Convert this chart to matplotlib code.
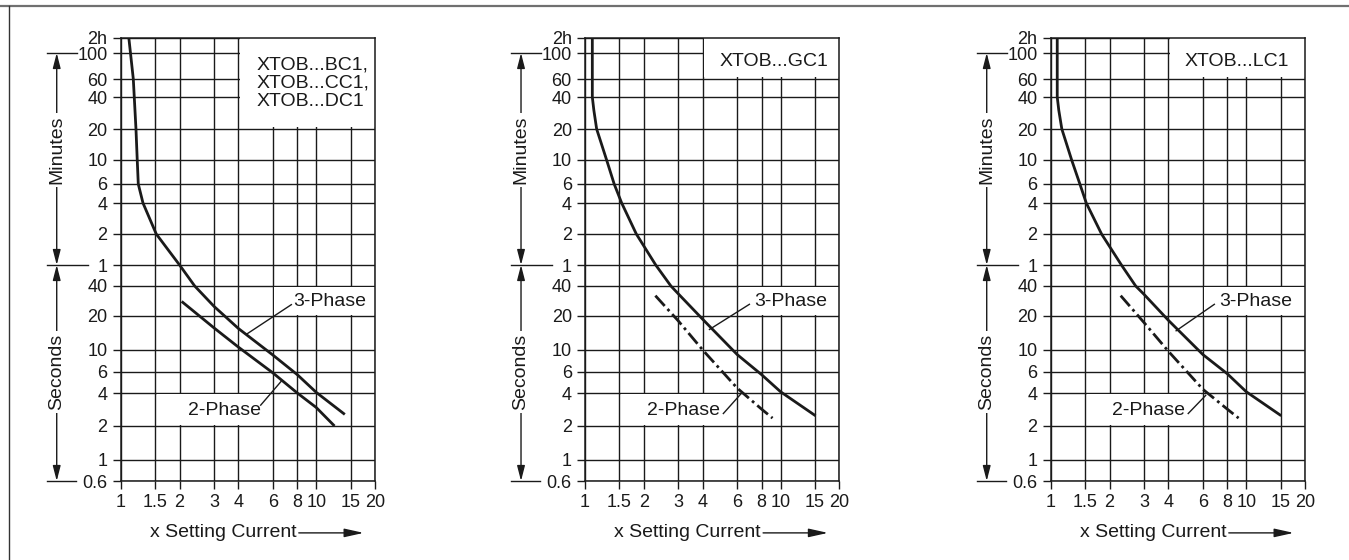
import numpy as np
import matplotlib
matplotlib.use('Agg')
import matplotlib.pyplot as plt
from matplotlib import rcParams
from matplotlib.patches import Rectangle
from matplotlib.lines import Line2D
import matplotlib.transforms as mtransforms

rcParams.update({'font.family': 'sans-serif', 'font.sans-serif': ['Liberation Sans', 'DejaVu Sans'],
                 'font.size': 13, 'text.color': '#1a1a1a', 'axes.edgecolor': '#1a1a1a',
                 'xtick.color': '#1a1a1a', 'ytick.color': '#1a1a1a'})

ink = '#1a1a1a'

# axis ticks (y in seconds)
xtick_vals = [1, 1.5, 2, 3, 4, 6, 8, 10, 15, 20]
xtick_labels = ['1', '1.5', '2', '3', '4', '6', '8', '10', '15', '20']
ytick_vals = [0.6, 1, 2, 4, 6, 10, 20, 40, 60, 120, 240, 360, 600, 1200, 2400, 3600, 6000, 7200]
ytick_labels = ['0.6', '1', '2', '4', '6', '10', '20', '40', '1', '2', '4', '6', '10', '20', '40', '60', '100', '2h']

# panel titles
titles = ['XTOB...BC1,\nXTOB...CC1,\nXTOB...DC1', 'XTOB...GC1', 'XTOB...LC1']

# 3-phase curves (x setting current, seconds)
bc_3ph_x = [1.10, 1.16, 1.197, 1.215, 1.23, 1.30, 1.52, 1.75, 2.0, 2.39, 3.0, 4.0, 6.0, 8.0, 10.0, 14.0]
bc_3ph_y = [7200, 3600, 1200, 600, 360, 240, 120, 84, 60, 40, 25, 15.5, 8.9, 5.7, 4.05, 2.55]
gc_3ph_x = [1.09, 1.09, 1.11, 1.147, 1.29, 1.41, 1.54, 1.83, 2.3, 2.75, 3.0, 4.0, 6.0, 8.0, 10.0, 15.1]
gc_3ph_y = [7200, 2400, 1800, 1200, 600, 360, 240, 120, 60, 40, 33.4, 18.7, 9.0, 5.7, 4.1, 2.48]
lc_3ph_x = [1.08, 1.08, 1.10, 1.14, 1.28, 1.41, 1.52, 1.82, 2.3, 2.72, 3.0, 4.0, 6.0, 8.0, 10.0, 15.1]
lc_3ph_y = [7200, 2400, 1800, 1200, 600, 360, 240, 120, 60, 40, 33, 18.3, 9.0, 5.8, 4.1, 2.48]

# 2-phase curves
bc_2ph_x = [2.05, 3.0, 4.0, 6.0, 8.0, 10.0, 12.4]
bc_2ph_y = [28, 15.7, 10.6, 5.9, 4.0, 2.95, 2.0]
gc_2ph_x = [2.29, 3.0, 4.0, 6.0, 8.0, 9.1]
gc_2ph_y = [32, 18.1, 10.0, 4.4, 2.85, 2.36]
lc_2ph_x = [2.28, 3.0, 4.0, 6.0, 8.0, 9.14]
lc_2ph_y = [32, 17.5, 9.7, 4.3, 2.85, 2.36]

# the printed time axis is log-like but not evenly spaced; map grid values to their height
scale_s = [1e-3, 0.6, 1, 2, 4, 6, 10, 20, 40, 60, 120, 240, 360, 600, 1200, 2400, 3600, 6000, 7200, 1e6]
scale_h = [-305.6, 0, 21, 55, 88, 109, 131, 165, 195, 216, 247, 278, 297, 321, 352, 384, 402, 428, 443.5, 679.2]
scale_logs = np.log10(scale_s)


def time_fwd(s):
    s = np.asarray(s, dtype=float)
    return np.interp(np.log10(np.clip(s, 1e-3, 1e6)), scale_logs, scale_h)


def time_inv(h):
    h = np.asarray(h, dtype=float)
    return 10 ** np.interp(h, scale_h, scale_logs)


def draw_panel(ax, title, title_xy, x3, y3, x2, y2, box_bottom, style2, lab3, lead3, lab2, lead2):
    ax.set_xscale('log')
    ax.set_yscale('function', functions=(time_fwd, time_inv))
    ax.set_xlim(1, 20)
    ax.set_ylim(0.6, 7200)
    ax.set_xticks(xtick_vals)
    ax.set_xticklabels(xtick_labels)
    ax.set_yticks(ytick_vals)
    ax.set_yticklabels(ytick_labels)
    ax.minorticks_off()
    ax.tick_params(direction='out', length=5.5, width=1, pad=4, labelsize=13)
    ax.set_axisbelow(True)
    ax.grid(True, color=ink, lw=1.0)
    for s in ax.spines.values():
        s.set_linewidth(1.1)

    # white boxes hiding the grid
    ax.add_patch(Rectangle((4 * 1.018, box_bottom * 1.04), 20 - 4 * 1.018, 7200 - box_bottom * 1.04,
                           facecolor='white', edgecolor='none'))
    ax.add_patch(Rectangle((6 * 1.018, 20 * 1.03), 20 - 6 * 1.018, 40 / 1.03 - 20 * 1.03,
                           facecolor='white', edgecolor='none'))
    ax.add_patch(Rectangle((1.5 * 1.018, 2 * 1.03), 6 / 1.018 - 1.5 * 1.018, 4 / 1.03 - 2 * 1.03,
                           facecolor='white', edgecolor='none'))

    ax.text(title_xy[0], title_xy[1], title, transform=ax.transAxes,
            ha='left', va='center', fontsize=14, linespacing=1.08)

    ax.plot(x3, y3, color=ink, lw=2.0, solid_capstyle='butt', solid_joinstyle='round', zorder=4)
    ax.plot(x2, y2, color=ink, lw=2.0, linestyle=style2, solid_capstyle='butt', zorder=4)

    ax.text(lab3[0], lab3[1], '3-Phase', ha='left', va='center', fontsize=14, zorder=5)
    ax.plot(lead3[0], lead3[1], color=ink, lw=1.0, zorder=5)
    ax.text(lab2[0], lab2[1], '2-Phase', ha='left', va='center', fontsize=14, zorder=5)
    ax.plot(lead2[0], lead2[1], color=ink, lw=1.0, zorder=5)

    # Minutes / Seconds range arrows
    tr = mtransforms.blended_transform_factory(ax.transAxes, ax.transData)
    xa = -0.2515
    ax.plot([-0.2896, -0.1717], [6000, 6000], color=ink, lw=1.0, transform=tr, clip_on=False)
    ax.plot([-0.2896, -0.1285], [60, 60], color=ink, lw=1.0, transform=tr, clip_on=False)
    ax.plot([-0.2896, -0.1756], [0.6, 0.6], color=ink, lw=1.0, transform=tr, clip_on=False)
    arr = dict(arrowstyle='<|-|>,head_length=0.7,head_width=0.18', lw=1.0, color=ink,
               shrinkA=0, shrinkB=0)
    ax.annotate('', xy=(xa, 6000), xytext=(xa, 60), xycoords=tr, textcoords=tr, arrowprops=arr,
                annotation_clip=False)
    ax.annotate('', xy=(xa, 60), xytext=(xa, 0.6), xycoords=tr, textcoords=tr, arrowprops=arr,
                annotation_clip=False)
    box = dict(boxstyle='square,pad=0.15', facecolor='white', edgecolor='none')
    ax.text(xa, 0.746, 'Minutes', rotation=90, ha='center', va='center', fontsize=14,
            transform=ax.transAxes, bbox=box, clip_on=False, zorder=6)
    ax.text(xa, 0.246, 'Seconds', rotation=90, ha='center', va='center', fontsize=14,
            transform=ax.transAxes, bbox=box, clip_on=False, zorder=6)

    # x label with arrow
    ax.text(0.115, -0.117, 'x Setting Current', transform=ax.transAxes, ha='left', va='center',
            fontsize=14)
    ax.annotate('', xy=(0.955, -0.117), xytext=(0.70, -0.117), xycoords='axes fraction',
                arrowprops=dict(arrowstyle='-|>,head_length=0.9,head_width=0.2', lw=1.0,
                                color=ink, shrinkA=0, shrinkB=0), annotation_clip=False)


fig = plt.figure(figsize=(13.49, 5.6), dpi=100)
w, h, b = 254.4 / 1349, 443.5 / 560, 79 / 560
ax1 = fig.add_axes([120.7 / 1349, b, w, h])
ax2 = fig.add_axes([585 / 1349, b, w, h])
ax3 = fig.add_axes([1050.7 / 1349, b, w, h])

dashdot = (0, (5, 1.5, 1, 1.5))
draw_panel(ax1, titles[0], (0.535, 0.897), bc_3ph_x, bc_3ph_y, bc_2ph_x, bc_2ph_y, 1200, '-',
           (7.66, 28), ([7.46, 4.4], [26, 13.8]), (2.22, 2.75), ([5.2, 6.61], [3.1, 5.0]))
draw_panel(ax2, titles[1], (0.527, 0.947), gc_3ph_x, gc_3ph_y, gc_2ph_x, gc_2ph_y, 3600, dashdot,
           (7.35, 28), ([6.93, 4.33], [26.2, 15.2]), (2.07, 2.75), ([5.1, 6.25], [2.6, 3.9]))
draw_panel(ax3, titles[2], (0.528, 0.947), lc_3ph_x, lc_3ph_y, lc_2ph_x, lc_2ph_y, 3600, dashdot,
           (7.28, 28), ([6.87, 4.38], [26.2, 14.8]), (2.06, 2.75), ([5.05, 6.2], [2.6, 3.8]))

# outer frame (top and left edges)
fig.add_artist(Line2D([0, 1], [1 - 5.5 / 560, 1 - 5.5 / 560], color='#707070', lw=1.6,
                      transform=fig.transFigure))
fig.add_artist(Line2D([8.5 / 1349, 8.5 / 1349], [0, 1 - 5.5 / 560], color='#333333', lw=1.0,
                      transform=fig.transFigure))

fig.savefig('out.png', dpi=100)
